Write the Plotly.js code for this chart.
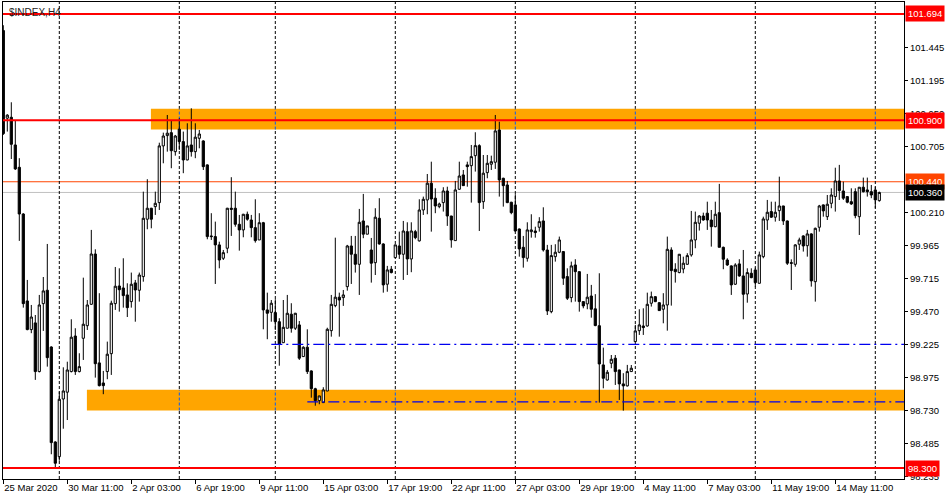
<!DOCTYPE html>
<html>
<head>
<meta charset="utf-8">
<script src="https://cdn.plot.ly/plotly-3.0.1.min.js"></script>
<style>html,body{margin:0;padding:0;background:#fff;}#chart{width:950px;height:500px;}</style>
</head>
<body>
<div id="chart"></div>
<script>
// ---- data (H4 candles) ----
const openV = [101.570,100.915,100.922,100.715,100.548,100.199,99.549,99.335,99.385,99.021,
99.529,99.629,99.205,98.495,98.385,98.816,98.867,99.021,99.287,99.021,
99.270,99.364,99.524,99.900,99.086,98.936,99.021,99.155,99.529,99.661,
99.646,99.594,99.544,99.684,99.629,99.731,100.160,100.242,100.254,100.284,
100.708,100.785,100.807,100.665,100.833,100.740,100.603,100.715,100.665,100.765,
100.745,100.566,100.035,100.030,99.968,99.868,99.943,100.242,100.242,100.122,
100.080,100.197,100.154,100.097,100.005,100.134,99.482,99.464,99.462,99.394,
99.237,99.345,99.450,99.345,99.370,99.133,99.203,99.026,98.893,98.804,
98.789,98.876,99.327,99.514,99.577,99.574,99.656,99.960,99.898,99.823,
100.147,100.048,99.930,99.835,100.167,99.975,99.674,99.786,99.873,99.960,
99.898,100.067,99.863,100.067,99.998,100.229,100.304,100.429,100.317,100.254,
100.284,100.371,100.184,100.000,100.384,100.491,100.566,100.560,100.635,100.710,
100.291,100.508,100.571,100.586,100.827,100.466,100.416,100.287,100.267,100.087,
99.950,99.868,100.067,100.072,100.100,100.147,99.930,99.469,99.880,99.913,
99.918,99.731,99.574,99.818,99.768,99.544,99.527,99.586,99.490,99.364,
99.071,98.958,99.083,99.121,99.033,98.929,98.914,99.021,99.245,99.327,
99.362,99.362,99.532,99.581,99.536,99.487,99.519,99.930,99.786,99.761,
99.788,99.823,99.893,100.005,100.130,100.184,100.205,100.154,100.104,100.209,
99.950,99.855,99.811,99.674,99.826,99.736,99.601,99.756,99.781,99.681,
99.880,100.154,100.217,100.175,100.224,100.259,100.147,99.835,99.823,99.973,
100.035,99.962,100.050,99.693,100.100,100.267,100.179,100.279,100.329,100.446,
100.371,100.329,100.291,100.366,100.179,100.399,100.379,100.366,100.379,100.299];
const highV = [101.610,100.945,101.034,100.894,100.616,100.205,99.706,99.519,99.444,99.594,
99.728,99.975,99.210,98.500,98.871,99.053,99.095,99.412,99.345,99.158,
99.723,99.556,100.080,99.935,99.607,99.026,99.245,99.551,99.803,99.793,
99.868,99.681,99.761,99.706,99.761,100.366,100.459,100.245,100.366,100.732,
100.807,100.939,100.897,100.790,100.915,100.815,100.877,100.989,100.877,100.827,
100.750,100.570,100.205,100.142,99.992,99.930,100.245,100.474,100.366,100.192,
100.200,100.217,100.192,100.309,100.205,100.140,99.611,99.556,99.562,99.420,
99.556,99.594,99.532,99.460,99.399,99.210,99.337,99.030,98.900,98.840,
98.904,99.349,99.594,100.022,99.611,99.631,99.968,100.035,100.035,100.237,
100.349,100.110,100.020,100.242,100.317,99.980,99.811,99.810,99.970,100.067,
100.147,100.137,100.137,100.080,100.309,100.329,100.498,100.590,100.391,100.284,
100.399,100.403,100.185,100.446,100.590,100.528,100.590,100.715,100.810,100.720,
100.640,100.640,100.635,100.939,100.889,100.470,100.446,100.290,100.347,100.090,
100.035,100.137,100.197,100.104,100.175,100.249,99.968,99.968,99.973,100.030,
99.920,99.793,99.843,99.861,99.770,99.545,99.751,99.669,99.600,99.756,
99.200,99.033,99.145,99.145,99.035,99.009,99.071,99.070,99.370,99.487,
99.494,99.611,99.619,99.585,99.540,99.607,100.030,99.950,99.831,99.900,
99.880,99.906,100.222,100.217,100.190,100.209,100.291,100.229,100.291,100.424,
99.955,99.868,99.815,99.831,99.861,99.930,99.793,99.793,99.798,99.918,
100.179,100.304,100.291,100.291,100.478,100.260,100.150,99.860,99.973,100.022,
100.040,100.080,100.055,100.097,100.267,100.270,100.341,100.391,100.545,100.566,
100.441,100.330,100.391,100.391,100.400,100.471,100.471,100.416,100.403,100.366];
const lowV = [100.790,100.815,100.610,100.528,99.998,99.499,99.330,99.308,98.959,99.015,
99.325,99.058,98.403,98.305,98.355,98.594,98.659,99.015,98.996,99.015,
99.108,99.332,99.520,98.976,98.910,98.852,98.964,98.996,99.482,99.469,
99.499,99.429,99.499,99.394,99.544,99.693,100.085,100.092,100.192,100.229,
100.578,100.665,100.541,100.635,100.678,100.504,100.600,100.628,100.616,100.690,
100.528,100.010,100.005,99.676,99.793,99.855,99.906,100.035,100.104,99.925,
100.025,100.149,100.025,99.985,100.005,99.337,99.263,99.394,99.332,99.065,
99.235,99.345,99.312,99.332,99.108,99.130,99.003,98.826,98.766,98.777,
98.789,98.875,99.282,99.502,99.282,99.512,99.626,99.676,99.761,99.594,
100.018,100.048,99.686,99.743,99.970,99.611,99.618,99.755,99.870,99.863,
99.706,99.743,99.764,100.010,99.993,100.192,100.197,100.067,100.205,100.242,
100.217,100.110,99.947,100.000,100.379,100.410,100.403,100.284,100.516,100.072,
100.237,100.466,100.528,100.536,100.329,100.254,100.280,100.197,100.067,99.880,
99.798,99.843,100.022,100.022,100.067,99.918,99.444,99.457,99.843,99.906,
99.669,99.556,99.539,99.544,99.469,99.494,99.487,99.424,99.360,98.789,
98.896,98.953,99.046,98.921,98.809,98.729,98.910,99.020,99.245,99.295,
99.295,99.357,99.507,99.540,99.475,99.382,99.327,99.514,99.686,99.756,
99.756,99.820,99.880,99.943,100.075,100.149,100.080,99.955,100.100,99.950,
99.786,99.811,99.594,99.669,99.730,99.412,99.536,99.719,99.656,99.680,
99.868,100.080,100.170,100.142,100.147,100.117,99.818,99.631,99.805,99.930,
99.918,99.880,99.656,99.544,100.067,100.179,100.154,100.242,100.217,100.304,
100.304,100.279,100.267,100.167,100.042,100.360,100.329,100.317,100.242,100.291];
const closeV = [100.800,100.938,100.720,100.536,100.199,99.529,99.335,99.429,99.021,99.519,
99.624,99.125,98.490,98.336,98.814,98.876,99.033,99.278,99.021,99.058,
99.375,99.519,99.900,99.080,98.916,98.916,99.151,99.532,99.659,99.633,
99.589,99.499,99.674,99.631,99.743,100.167,100.242,100.160,100.279,100.708,
100.782,100.803,100.672,100.782,100.740,100.603,100.708,100.665,100.773,100.797,
100.553,100.030,100.030,99.968,99.855,99.910,100.242,100.234,100.122,100.080,
100.197,100.160,100.097,100.000,100.134,99.482,99.457,99.532,99.394,99.228,
99.352,99.457,99.345,99.457,99.121,99.203,99.021,98.893,98.804,98.839,
98.884,99.337,99.524,99.577,99.556,99.594,99.960,99.898,99.823,100.137,
100.048,100.110,99.831,100.175,99.975,99.669,99.781,99.761,99.968,99.898,
100.072,99.863,100.072,100.022,100.229,100.309,100.429,100.311,100.259,100.274,
100.371,100.184,100.005,100.379,100.483,100.411,100.553,100.628,100.710,100.284,
100.504,100.578,100.590,100.820,100.454,100.411,100.284,100.209,100.072,99.938,
99.873,100.080,100.080,100.060,100.142,99.930,99.474,99.888,99.913,100.005,
99.719,99.569,99.811,99.768,99.544,99.512,99.577,99.487,99.365,99.078,
98.971,99.016,99.113,99.021,98.929,98.914,99.021,99.046,99.325,99.370,
99.350,99.524,99.581,99.544,99.477,99.519,99.935,99.776,99.768,99.898,
99.831,99.888,100.005,100.137,100.184,100.154,100.154,100.104,100.197,99.950,
99.861,99.818,99.669,99.818,99.736,99.599,99.761,99.723,99.686,99.893,
100.162,100.212,100.175,100.212,100.259,100.147,99.831,99.831,99.968,100.005,
99.960,100.050,99.699,100.092,100.259,100.222,100.272,100.341,100.446,100.374,
100.317,100.287,100.274,100.187,100.399,100.366,100.366,100.341,100.304,100.360];

// x-axis ticks: candle index and label
const xTickIdx = [0,16,32,48,64,80,96,112,128,144,160,176,192,208];
const xTickLabels = ["25 Mar 2020","30 Mar 11:00","2 Apr 03:00","6 Apr 19:00","9 Apr 11:00",
  "15 Apr 03:00","17 Apr 19:00","22 Apr 11:00","27 Apr 03:00","29 Apr 19:00",
  "4 May 11:00","7 May 03:00","11 May 19:00","14 May 11:00"];
// price axis ticks
const yTickVals = [98.235,98.485,98.730,98.975,99.225,99.470,99.715,99.965,100.210,100.705,100.950,101.195,101.445];
// vertical dotted separators (candle index)
const gridIdx = [14,44,68,98,128,158,188,218];
// horizontal levels
const redLevels = [101.694,100.900,98.300];
const resistLevel = 100.440;
const bidLevel = 100.360;
const dashLevels = [99.225,98.795];
const dashStartIdx = [67,76];
// zones: [low, high], start index
const zoneTop = [100.830,100.985]; const zoneTopStart = 36.9;
const zoneLow = [98.730,98.885];   const zoneLowStart = 20.9;
const symbolTitle = "$INDEX,H4";

// ---- build ----
const n = closeV.length;
const idx = Array.from({length:n},(_,i)=>i);
const xRange = [-0.075, 225.175];
const yRange = [98.2181, 101.7836];
const FONT = "Liberation Sans, Arial, sans-serif";

const trace = {
  type:'candlestick', x: idx, open: openV, high: highV, low: lowV, close: closeV,
  increasing:{line:{color:'#000',width:1}, fillcolor:'#ffffff'},
  decreasing:{line:{color:'#000',width:1}, fillcolor:'#000000'},
  whiskerwidth:0, hoverinfo:'skip', showlegend:false
};

const shapes = [];
// zones
[[zoneTop,zoneTopStart],[zoneLow,zoneLowStart]].forEach(([z,s])=>{
  shapes.push({type:'rect',layer:'below',xref:'x',yref:'y',x0:s,x1:xRange[1],y0:z[0],y1:z[1],
    fillcolor:'#FFA500',line:{width:0}});
});
// resistance / bid lines below candles
shapes.push({type:'line',layer:'below',xref:'paper',yref:'y',x0:0,x1:1,y0:resistLevel,y1:resistLevel,line:{color:'#FF4500',width:1}});
shapes.push({type:'line',layer:'below',xref:'paper',yref:'y',x0:0,x1:1,y0:bidLevel,y1:bidLevel,line:{color:'#C0C0C0',width:1}});
// vertical separators
gridIdx.forEach(g=>{
  shapes.push({type:'line',layer:'below',xref:'x',yref:'paper',x0:g,x1:g,y0:0,y1:1,line:{color:'#000',width:1,dash:'3px,2px'}});
  [[zoneTop,zoneTopStart],[zoneLow,zoneLowStart]].forEach(([z,s])=>{
    if (g > s) shapes.push({type:'line',layer:'below',xref:'x',yref:'y',x0:g,x1:g,y0:z[0],y1:z[1],line:{color:'#005AFF',width:1,dash:'3px,2px'}});
  });
});
// red levels
redLevels.forEach(v=>{
  shapes.push({type:'line',layer:'above',xref:'paper',yref:'y',x0:0,x1:1,y0:v,y1:v,line:{color:'#FF0000',width:2}});
});
// blue dash-dot levels
dashLevels.forEach((v,k)=>{
  shapes.push({type:'line',layer:'above',xref:'x',yref:'y',x0:dashStartIdx[k],x1:xRange[1],y0:v,y1:v,line:{color:'#0000F0',width:1.2,dash:'11px,4px,2px,4px'}});
});

const annotations = [];
function priceTag(v,bg){
  annotations.push({xref:'paper',yref:'y',x:1,y:v,xanchor:'left',yanchor:'middle',xshift:1,
    text:v.toFixed(3),showarrow:false,bgcolor:bg,borderpad:2,
    font:{family:FONT,size:9.5,color:'#ffffff'}});
}
redLevels.forEach(v=>priceTag(v,'#FF0000'));
priceTag(resistLevel,'#FF4500');
priceTag(bidLevel,'#000000');
annotations.push({xref:'paper',yref:'paper',x:0,y:1,xanchor:'left',yanchor:'top',xshift:4,yshift:-3,
  text:symbolTitle,showarrow:false,font:{family:FONT,size:10,color:'#222'}});

const layout = {
  width:950,height:500,margin:{l:3,r:46,t:2,b:21,pad:0},
  paper_bgcolor:'#fff',plot_bgcolor:'#fff',showlegend:false,
  boxgap:0.45,boxgroupgap:0,
  xaxis:{type:'linear',range:xRange,tickmode:'array',tickvals:xTickIdx,ticktext:xTickLabels,
    ticks:'outside',ticklen:4,tickwidth:1,tickcolor:'#000',ticklabelposition:'outside right',tickangle:0,
    showgrid:false,zeroline:false,showline:true,mirror:true,linecolor:'#000',linewidth:1,
    tickfont:{family:FONT,size:9.5,color:'#000'},rangeslider:{visible:false},fixedrange:true},
  yaxis:{side:'right',range:yRange,tickmode:'array',tickvals:yTickVals,tickformat:'.3f',
    ticks:'outside',ticklen:3,tickwidth:1,tickcolor:'#000',
    showgrid:false,zeroline:false,showline:true,mirror:true,linecolor:'#000',linewidth:1,
    tickfont:{family:FONT,size:9.5,color:'#000'},fixedrange:true},
  shapes:shapes,annotations:annotations
};
Plotly.newPlot('chart',[trace],layout,{staticPlot:true,displayModeBar:false});
</script>
</body>
</html>
